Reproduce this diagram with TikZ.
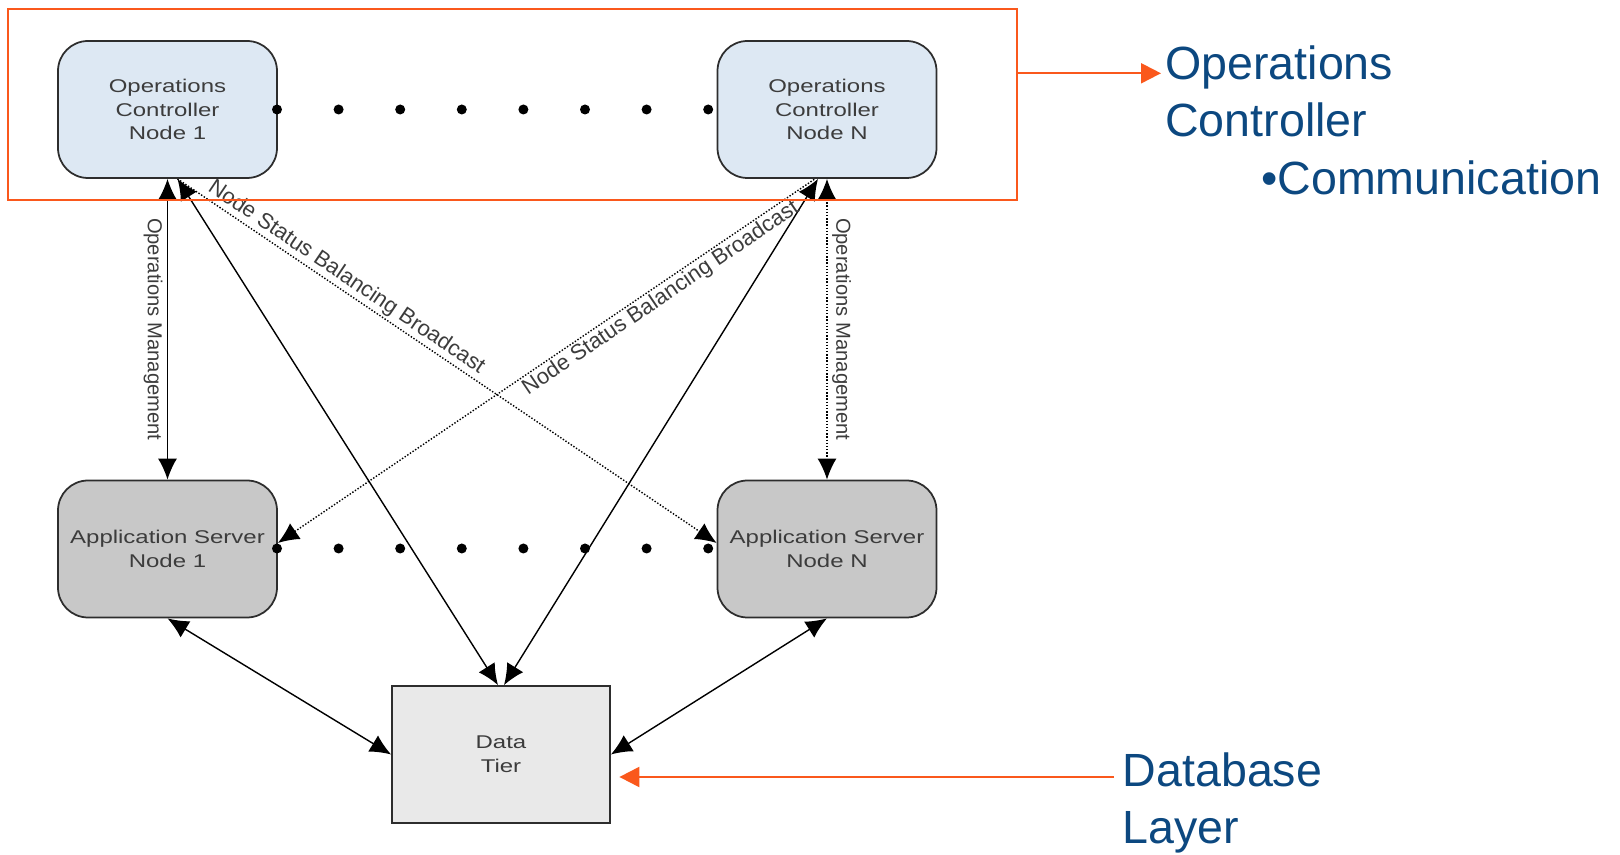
\documentclass[tikz,border=0pt]{standalone}
\usepackage{fontspec}
\setmainfont{Liberation Sans}
\newfontfamily\boxfont[FakeStretch=1.3]{Liberation Sans}
\usetikzlibrary{arrows.meta}
\pgfdeclarelayer{bg}
\pgfsetlayers{bg,main}
\definecolor{opsblue}{RGB}{221,232,243}
\definecolor{appgray}{RGB}{200,200,200}
\definecolor{datagray}{RGB}{233,233,233}
\definecolor{rimgray}{RGB}{45,45,45}
\definecolor{inkgray}{RGB}{60,60,60}
\definecolor{callout}{RGB}{250,88,28}
\definecolor{titleblue}{RGB}{12,72,128}
\tikzset{
    tier/.style={draw=rimgray, line width=1pt, minimum width=4.38cm, minimum height=2.74cm,
        align=center, text=inkgray, inner sep=0mm, font=\boxfont\fontsize{10.5}{13.4}\selectfont},
    opsnode/.style={tier, rounded corners=0.6cm, fill=opsblue},
    appnode/.style={tier, rounded corners=0.6cm, fill=appgray},
    datanode/.style={tier, fill=datagray, minimum width=4.36cm},
    link/.style={draw=black, line width=0.8pt, >={Latex[length=4.2mm,width=3.8mm]}},
    dotlink/.style={link, densely dotted},
    linklabel/.style={text=inkgray, inner sep=2.5pt, font=\fontsize{11.5}{13}\selectfont},
    slantlabel/.style={text=inkgray, inner sep=1pt, font=\fontsize{12.5}{15}\selectfont},
    callbox/.style={draw=callout, line width=1.2pt, minimum width=20.18cm, minimum height=3.82cm, inner sep=0mm},
    callarrow/.style={draw=callout, line width=1.2pt, -{Triangle[length=4mm,width=4mm]}},
    calltext/.style={text=titleblue, inner sep=0mm, anchor=base west, font=\fontsize{26.5}{32.4}\selectfont}
}
\begin{document}
\begin{tikzpicture}
        \useasboundingbox (0cm, 0cm) rectangle (32.4cm, -17.1cm);
        \node (ops1) [opsnode] at (3.35cm, -2.19cm) {Operations\\Controller\\Node 1};
        \node (opsN) [opsnode] at (16.54cm, -2.19cm) {Operations\\Controller\\Node N};
        \node (app1) [appnode] at (3.35cm, -10.98cm) {Application Server\\Node 1};
        \node (appN) [appnode] at (16.54cm, -10.98cm) {Application Server\\Node N};
        \node (data) [datanode] at (10.02cm, -15.09cm) {Data\\Tier};
        \begin{pgfonlayer}{bg}
                \draw (ops1.south) edge [link, <->] node [linklabel, rotate=-90, anchor=north, midway] {Operations Management} (app1.north);
                \draw (opsN.south) edge [dotlink, <->] node [linklabel, rotate=-90, anchor=south, midway] {Operations Management} (appN.north);
                \draw ([xshift=0.2cm]ops1.south) edge [link, <->] ([xshift=-0.06cm]data.north);
                \draw ([xshift=-0.18cm]opsN.south) edge [link, <->] ([xshift=0.06cm]data.north);
                \draw ([xshift=0.2cm]ops1.south) edge [dotlink, ->] node [slantlabel, sloped, above, pos=0.3] {Node Status Balancing Broadcast} ([yshift=0.12cm]appN.west);
                \draw ([yshift=0.12cm]app1.east) edge [dotlink, <-] node [slantlabel, sloped, below, pos=0.7] {Node Status Balancing Broadcast} ([xshift=-0.24cm]opsN.south);
                \draw (app1.south) edge [link, <->] (data.west);
                \draw (appN.south) edge [link, <->] (data.east);
        \end{pgfonlayer}
        \foreach \k in {0,...,7} {
                \fill (5.54cm+\k*1.232cm, -2.19cm) circle (0.1cm);
                \fill (5.54cm+\k*1.232cm, -10.97cm) circle (0.1cm);
        }
        % call-outs
        \node (opsbox) [callbox] at (10.25cm, -2.09cm) {};
        \node (opstitle) [calltext] at (23.3cm, -1.6cm) {Operations};
        \node (ctltitle) [calltext] at (23.3cm, -2.74cm) {Controller};
        \node (commtitle) [calltext] at (25.22cm, -3.9cm) {•Communication};
        \node (dbtitle) [calltext] at (22.45cm, -15.74cm) {Database};
        \node (layertitle) [calltext] at (22.45cm, -16.88cm) {Layer};
        \coordinate (opstip) at (23.22cm, -1.466cm);
        \coordinate (dbtail) at (22.28cm, -15.54cm);
        \draw [callarrow] (opsbox.east |- opstip) -- (opstip);
        \draw [callarrow, shorten >=0.17cm] (dbtail) -- (data.east |- dbtail);
\end{tikzpicture}
\end{document}
